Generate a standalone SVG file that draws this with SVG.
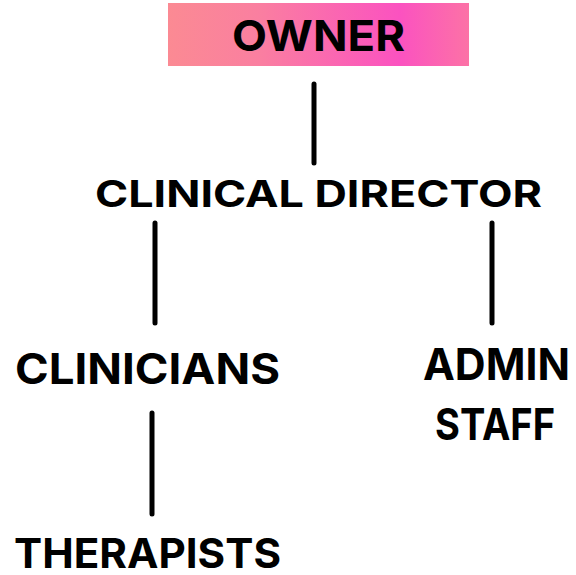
<svg xmlns="http://www.w3.org/2000/svg" width="576" height="575" viewBox="0 0 576 575">
<defs>
<linearGradient id="g" x1="0" y1="0" x2="1" y2="0">
<stop offset="0" stop-color="#fb8a93"/>
<stop offset="0.3" stop-color="#fa7fa0"/>
<stop offset="0.77" stop-color="#fb52c0"/>
<stop offset="1" stop-color="#fc72a6"/>
</linearGradient>
</defs>
<style>
text{font-family:Inter,"Noto Sans",sans-serif;font-weight:700;fill:#000;text-anchor:middle}
.c{stroke:#000;stroke-width:5;stroke-linecap:round;fill:none}
</style>
<rect width="576" height="575" fill="#fff"/>
<g id="owner">
<rect x="168" y="3" width="301" height="63" fill="url(#g)"/>
<text x="318.5" y="51" font-size="43" textLength="173" lengthAdjust="spacingAndGlyphs">OWNER</text>
</g>
<g id="clinical-director">
<text x="318.5" y="207" font-size="37" textLength="447" lengthAdjust="spacingAndGlyphs">CLINICAL DIRECTOR</text>
</g>
<g id="clinicians">
<text x="147.5" y="383.5" font-size="42" textLength="265" lengthAdjust="spacingAndGlyphs">CLINICIANS</text>
</g>
<g id="admin-staff">
<text x="496.5" y="380" font-size="44" textLength="147" lengthAdjust="spacingAndGlyphs">ADMIN</text>
<text x="495" y="440" font-size="44" textLength="120" lengthAdjust="spacingAndGlyphs">STAFF</text>
</g>
<g id="therapists">
<text x="147.5" y="568" font-size="41" textLength="267" lengthAdjust="spacingAndGlyphs">THERAPISTS</text>
</g>
<g id="connectors">
<line class="c" x1="314" y1="84" x2="314" y2="163"/>
<line class="c" x1="155" y1="223" x2="155" y2="323"/>
<line class="c" x1="492" y1="223" x2="492" y2="323"/>
<line class="c" x1="152" y1="413" x2="152" y2="514"/>
</g>
</svg>
